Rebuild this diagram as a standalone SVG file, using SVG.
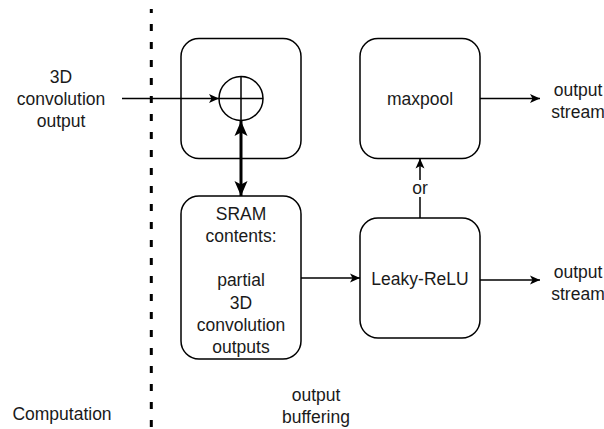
<svg xmlns="http://www.w3.org/2000/svg" width="604" height="429" viewBox="0 0 604 429">
  <style>
    text { font-family: "Liberation Sans", Arial, sans-serif; font-size: 17.5px; fill: #1a1a1a; text-anchor: middle; }
    .box { fill: #ffffff; stroke: #000000; stroke-width: 1.5; }
    .wire { fill: none; stroke: #000000; stroke-width: 1.5; }
    .thick { fill: none; stroke: #000000; stroke-width: 3; }
    .divider { fill: none; stroke: #000000; stroke-width: 3; stroke-dasharray: 7 11; }
  </style>
  <defs>
    <marker id="arrow" markerUnits="userSpaceOnUse" markerWidth="12" markerHeight="10" refX="11" refY="5" orient="auto">
      <path d="M1,0.5 L11,5 L1,9.5 L3.5,5 Z" fill="#000000"/>
    </marker>
    <marker id="bigArrow" markerUnits="userSpaceOnUse" markerWidth="17" markerHeight="14" refX="16" refY="7" orient="auto-start-reverse">
      <path d="M1,0.5 L16,7 L1,13.5 L4.5,7 Z" fill="#000000"/>
    </marker>
  </defs>

  <rect width="604" height="429" fill="#ffffff"/>

  <!-- boundary between computation and output buffering -->
  <line class="divider" x1="151.3" y1="9" x2="151.3" y2="429" stroke-dashoffset="3"/>

  <!-- accumulator with adder -->
  <g id="adder">
    <rect class="box" x="181" y="38.5" width="120" height="120" rx="18" ry="18"/>
    <circle class="wire" cx="241" cy="98.5" r="22"/>
    <line class="wire" x1="219" y1="98.5" x2="263" y2="98.5"/>
    <line class="wire" x1="241" y1="76.5" x2="241" y2="120.5"/>
  </g>

  <!-- on-chip buffer -->
  <g id="sram">
    <rect class="box" x="181" y="196" width="120" height="163" rx="18" ry="18"/>
    <text x="241" y="219.5">SRAM</text>
    <text x="241" y="241.8">contents:</text>
    <text x="241" y="286.4">partial</text>
    <text x="241" y="308.7">3D</text>
    <text x="241" y="331">convolution</text>
    <text x="241" y="353.3">outputs</text>
  </g>

  <g id="maxpool">
    <rect class="box" x="360" y="38.5" width="120" height="120" rx="18" ry="18"/>
    <text x="420" y="104.5">maxpool</text>
  </g>

  <g id="leaky-relu">
    <rect class="box" x="360" y="218" width="120" height="120" rx="18" ry="18"/>
    <text x="420" y="284.5">Leaky-ReLU</text>
  </g>

  <!-- connectors -->
  <g id="connectors">
    <line class="wire" x1="122" y1="98.5" x2="219" y2="98.5" marker-end="url(#arrow)"/>
    <line class="thick" x1="241" y1="121" x2="241" y2="196" marker-start="url(#bigArrow)" marker-end="url(#bigArrow)"/>
    <line class="wire" x1="301" y1="278" x2="360" y2="278" marker-end="url(#arrow)"/>
    <line class="wire" x1="420" y1="218" x2="420" y2="158.5" marker-end="url(#arrow)"/>
    <rect x="410" y="180" width="20" height="17" fill="#ffffff"/>
    <text x="420" y="193.5">or</text>
    <line class="wire" x1="480" y1="98.5" x2="540" y2="98.5" marker-end="url(#arrow)"/>
    <line class="wire" x1="480" y1="280" x2="540" y2="280" marker-end="url(#arrow)"/>
  </g>

  <!-- free labels -->
  <g id="labels">
    <text x="61" y="83">3D</text>
    <text x="61" y="105">convolution</text>
    <text x="61" y="127">output</text>
    <text x="578" y="96">output</text>
    <text x="578" y="118">stream</text>
    <text x="578" y="277.5">output</text>
    <text x="578" y="299.5">stream</text>
    <text x="62" y="420">Computation</text>
    <text x="316" y="401">output</text>
    <text x="316" y="423">buffering</text>
  </g>
</svg>
